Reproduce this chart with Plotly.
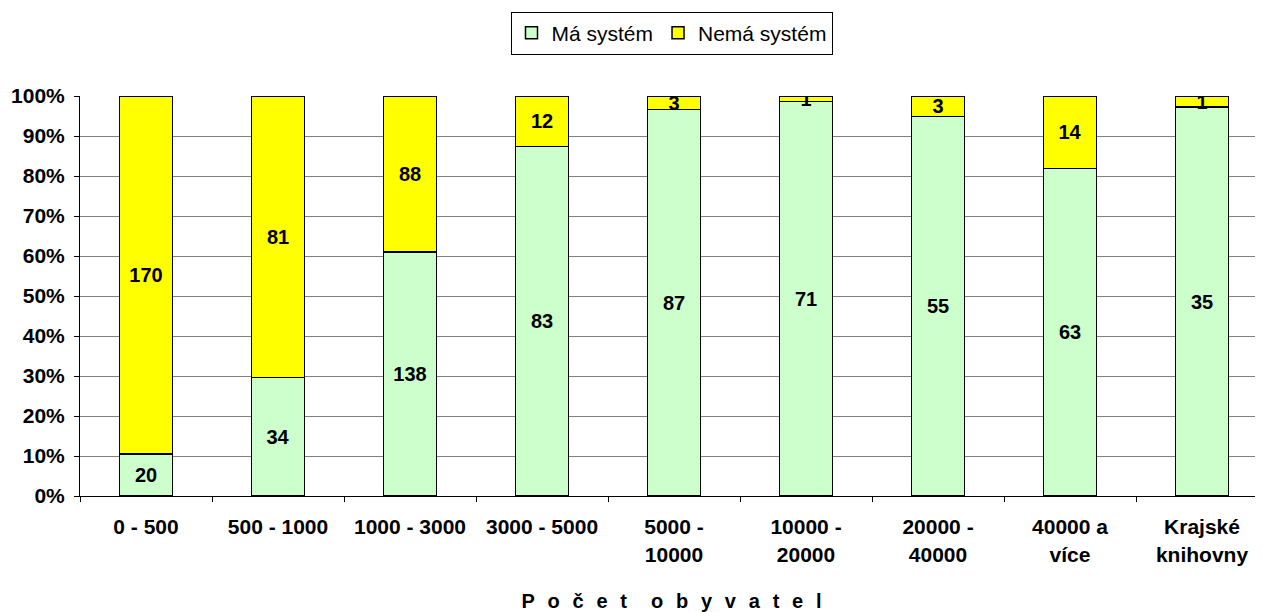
import plotly.graph_objects as go

categories = ["0 - 500", "500 - 1000", "1000 - 3000", "3000 - 5000", "5000 -<br>10000",
              "10000 -<br>20000", "20000 -<br>40000", "40000 a<br>více", "Krajské<br>knihovny"]
ma_system = [20, 34, 138, 83, 87, 71, 55, 63, 35]
nema_system = [170, 81, 88, 12, 3, 1, 3, 14, 1]
y_ticks = list(range(0, 101, 10))
y_tick_labels = [f"{v}%" for v in y_ticks]

FONT = "Liberation Sans, Arial, sans-serif"
NB = "\u00a0"
GAP = NB * 2 + "\u200a"
title_text = GAP.join("Počet") + NB * 4 + "\u200a" + GAP.join("obyvatel")

fig = go.Figure()
for name, vals, color in [("Má systém", ma_system, "#CCFFCC"),
                          ("Nemá systém", nema_system, "#FFFF00")]:
    fig.add_trace(go.Bar(
        x=categories, y=vals, name=name,
        marker=dict(color=color, line=dict(color="black", width=1.5)),
        text=vals, textposition="inside", insidetextanchor="middle", textangle=0,
        textfont=dict(family=FONT, size=20, color="black", weight="bold"),
        constraintext="none", width=0.4,
    ))

fig.update_layout(
    barmode="stack", barnorm="percent",
    width=1255, height=604,
    margin=dict(l=72, r=0, t=88, b=116, autoexpand=False),
    paper_bgcolor="white", plot_bgcolor="white",
    font=dict(family=FONT, color="black"),
    uniformtext=dict(minsize=20, mode="show"),
    legend=dict(orientation="h", x=0.5, xanchor="center", y=0.994, yanchor="top",
                yref="container", bordercolor="black", borderwidth=1,
                bgcolor="white", font=dict(size=21, family=FONT), traceorder="normal",
                itemwidth=30, tracegroupgap=0),
    xaxis=dict(range=[-0.5, 8.462], showline=True, linecolor="black", linewidth=1,
               ticks="outside", tickson="boundaries", ticklen=5, tickcolor="black",
               tickfont=dict(size=21, family=FONT, weight="bold"),
               ticklabelstandoff=12, automargin=False,
               title=dict(text=title_text,
                          font=dict(size=20, family=FONT, weight="bold"), standoff=40)),
    yaxis=dict(range=[0, 100], showline=True, linecolor="black", linewidth=1,
               ticks="outside", ticklen=5, tickcolor="black",
               tickmode="array", tickvals=y_ticks, ticktext=y_tick_labels,
               showgrid=True, gridcolor="#808080", gridwidth=1,
               tickfont=dict(size=21, family=FONT, weight="bold"),
               ticklabelstandoff=5, automargin=False),
)

fig.write_html("out.html")
